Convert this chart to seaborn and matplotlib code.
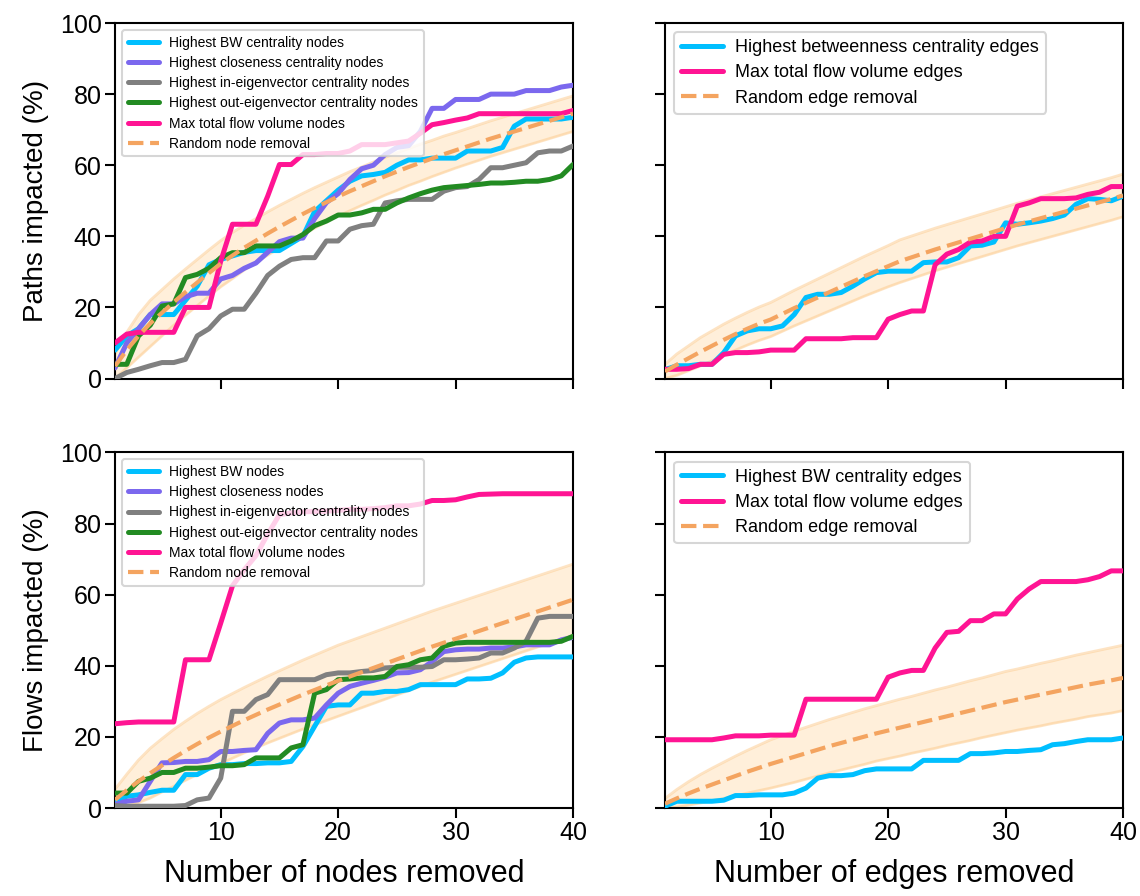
import numpy as np
import pandas as pd
import matplotlib
matplotlib.use("Agg")
import matplotlib.pyplot as plt
import seaborn as sns

# ---------------- data ----------------
x_removed = list(range(1, 41))

# Paths impacted (%) - node removal
paths_node_bw = [8, 12, 14, 18, 18, 18, 22, 26, 32, 33.5, 34.5, 35.5, 36, 36, 36, 38, 40, 47, 50, 53,
                 55.5, 57, 57.4, 58, 60, 61.5, 61.5, 62, 62, 62, 64, 64, 64, 65, 71, 73, 73, 73, 73, 73.5]
paths_node_closeness = [3, 10, 14, 18, 21, 21, 23, 24, 24, 28, 29, 31, 32.5, 35.5, 38.5, 39.5, 39.5, 45, 49.5, 52,
                        56, 59, 60, 63, 65, 65.5, 69.5, 76, 76, 78.5, 78.5, 78.5, 80, 80, 80, 81, 81, 81, 82, 82.5]
paths_node_in_eig = [0, 1.7, 2.6, 3.6, 4.5, 4.5, 5.4, 12, 14, 17.6, 19.5, 19.5, 24, 29, 31.6, 33.5, 34, 34, 38.7, 38.7,
                     42, 43, 43.4, 49.4, 50, 50.4, 50.4, 50.4, 52.7, 53.7, 54, 56, 59.3, 59.3, 60, 60.7, 63.5, 64, 64, 65.4]
paths_node_out_eig = [4, 4, 12, 15, 20.4, 21, 28.4, 29.3, 31, 34, 35.4, 35.4, 37.3, 37.3, 37.3, 38.7, 40.5, 43, 44.3, 46,
                      46, 46.6, 47.6, 47.6, 49.4, 50.8, 52, 53, 53.7, 54, 54.3, 54.6, 55, 55, 55.2, 55.5, 55.5, 56, 57, 60.2]
paths_node_flow = [10, 12.5, 13, 13, 13, 13, 20, 20, 20, 33, 43.4, 43.4, 43.4, 51.3, 60.2, 60.2, 63, 63, 63.3, 63.3,
                   64, 65.8, 65.8, 65.8, 66.3, 66.8, 69, 71.4, 72, 72.7, 73.3, 74.5, 74.5, 74.5, 74.5, 74.5, 74.5, 74.5, 74.5, 75.4]
paths_node_rand = [3.5, 8, 12, 15.5, 18.5, 21.5, 24.3, 27, 29.7, 32.3, 34.6, 36.8, 38.8, 40.8, 42.7, 44.5, 46.3, 48, 49.6, 51.2,
                   52.7, 54.1, 55.5, 56.9, 58.2, 59.5, 60.7, 61.9, 63.1, 64.2, 65.3, 66.4, 67.5, 68.5, 69.5, 70.5, 71.5, 72.5, 73.5, 74.5]
paths_node_rand_lo = [0, 3, 6, 9, 12, 15, 17.8, 20.5, 23.2, 25.8, 28.1, 30.5, 32.6, 34.7, 36.7, 38.6, 40.5, 42.3, 44, 45.7,
                      47.2, 48.7, 50.1, 51.6, 52.9, 54.3, 55.5, 56.8, 58, 59.2, 60.3, 61.4, 62.5, 63.5, 64.5, 65.5, 66.5, 67.5, 68.5, 69.5]
paths_node_rand_hi = [7, 13, 18, 22, 25, 28, 30.8, 33.5, 36.2, 38.8, 41.1, 43.1, 45, 46.9, 48.7, 50.4, 52.1, 53.7, 55.2, 56.7,
                      58.2, 59.5, 60.9, 62.2, 63.5, 64.7, 65.9, 67, 68.2, 69.2, 70.3, 71.4, 72.5, 73.5, 74.5, 75.5, 76.5, 77.5, 78.5, 79.5]

# Paths impacted (%) - edge removal
paths_edge_bw = [2.5, 3.6, 3.6, 4, 4, 7.3, 12, 13.4, 14, 14, 14.8, 18, 22.8, 23.7, 23.7, 24.2, 26, 28, 29.8, 30.2,
                 30.2, 30.2, 32.6, 32.8, 32.8, 34, 37.3, 37.5, 38.4, 43.8, 43.4, 43.8, 44.3, 45, 46, 49, 50.6, 50.4, 50, 51.3]
paths_edge_flow = [2.6, 2.6, 2.8, 4, 4, 6.8, 7.3, 7.3, 7.5, 8, 8, 8, 11.2, 11.2, 11.2, 11.2, 11.5, 11.5, 11.5, 16.7,
                   18, 19, 19, 32, 35, 36.3, 38.4, 38.7, 40, 40, 48.5, 49.4, 50.6, 50.6, 50.6, 50.8, 51.8, 52.4, 54, 54]
paths_edge_rand = [2, 3.9, 5.7, 7.5, 9.2, 10.9, 12.5, 14, 15.4, 16.6, 18.2, 19.8, 21.3, 22.8, 24.3, 25.8, 27.3, 28.8, 30.2, 31.6,
                   33, 34.1, 35.2, 36.3, 37.3, 38.3, 39.3, 40.3, 41.3, 42.3, 43.3, 44.2, 45.1, 46, 46.9, 47.8, 48.7, 49.6, 50.5, 51.5]
paths_edge_rand_lo = [0, 0.9, 2.2, 3.5, 5, 6.5, 8, 9.4, 10.7, 11.8, 13.3, 14.8, 16.2, 17.6, 19, 20.4, 21.8, 23.2, 24.5, 25.8,
                      27, 28.1, 29.2, 30.3, 31.3, 32.3, 33.3, 34.3, 35.3, 36.3, 37.3, 38.2, 39.1, 40, 40.9, 41.8, 42.7, 43.6, 44.5, 45.5]
paths_edge_rand_hi = [4, 6.9, 9.2, 11.5, 13.4, 15.3, 17, 18.6, 20.1, 21.4, 23.1, 24.8, 26.4, 28, 29.6, 31.2, 32.8, 34.4, 35.9, 37.4,
                      39, 40.1, 41.2, 42.3, 43.3, 44.3, 45.3, 46.3, 47.3, 48.3, 49.3, 50.2, 51.1, 52, 52.9, 53.8, 54.7, 55.6, 56.5, 57.5]

# Flows impacted (%) - node removal
flows_node_bw = [1.4, 3.3, 3.7, 4.4, 5, 5, 9.4, 9.4, 11.2, 12.2, 12.2, 12.5, 12.5, 12.7, 12.7, 13.1, 17.3, 23, 28.6, 29,
                 29, 32.3, 32.3, 32.8, 32.8, 33.3, 34.7, 34.7, 34.7, 34.7, 36.3, 36.3, 36.5, 38, 41, 42.2, 42.5, 42.5, 42.5, 42.5]
flows_node_closeness = [1, 1.9, 2.3, 7.5, 12.7, 12.8, 13.1, 13.1, 13.6, 15.9, 15.9, 16.2, 16.4, 21, 23.9, 24.8, 24.8, 25.3, 29, 32.3,
                        34.2, 35.1, 35.9, 36.8, 38, 38.1, 38.9, 41.2, 44, 44.5, 44.7, 44.7, 45, 45, 45.3, 45.9, 45.9, 45.9, 47.3, 48]
flows_node_in_eig = [0.7, 0.5, 0.5, 0.5, 0.5, 0.5, 0.7, 2.3, 2.8, 8.4, 27.2, 27.2, 30.5, 31.9, 36.1, 36.1, 36.1, 36.1, 37.5, 38,
                     38, 38.4, 38.7, 39.4, 39.6, 39.6, 39.6, 39.8, 41.7, 41.7, 41.9, 42.2, 43.6, 43.6, 45, 46.9, 53.4, 53.9, 53.9, 53.9]
flows_node_out_eig = [4.2, 4.2, 7.5, 8.4, 10, 10, 11.2, 11.2, 11.5, 11.9, 11.9, 12.2, 14.1, 14.1, 14.1, 16.9, 17.8, 32.3, 33.3, 36.1,
                      36.3, 36.6, 36.6, 37, 39.8, 40.3, 41.7, 42.2, 45.5, 46.4, 46.6, 46.6, 46.6, 46.6, 46.6, 46.6, 46.6, 46.6, 46.9, 48.3]
flows_node_flow = [23.7, 24, 24.2, 24.2, 24.2, 24.2, 41.7, 41.7, 41.7, 52, 62.5, 67, 71, 77, 82.5, 83, 83.3, 83.4, 83.5, 83.7,
                   84, 84, 84.2, 84.5, 85, 85, 85.5, 86.5, 86.5, 86.7, 87.5, 88.2, 88.3, 88.4, 88.4, 88.4, 88.4, 88.4, 88.4, 88.4]
flows_node_rand = [2.3, 5, 7.5, 9.8, 12, 14.1, 16.1, 18, 19.8, 21.5, 23.1, 24.7, 26.2, 27.7, 29.1, 30.5, 31.9, 33.2, 34.5, 35.8,
                   37, 38.2, 39.4, 40.6, 41.8, 43, 44.2, 45.4, 46.5, 47.6, 48.7, 49.8, 50.9, 52, 53.1, 54.2, 55.3, 56.4, 57.5, 58.6]
flows_node_rand_lo = [0, 0.5, 1.5, 2.8, 4.5, 6.1, 7.8, 9.4, 11, 12.5, 14, 15.5, 16.9, 18.3, 19.6, 20.9, 22.2, 23.4, 24.6, 25.8,
                      27, 28.2, 29.4, 30.6, 31.8, 33, 34.2, 35.4, 36.5, 37.6, 38.7, 39.8, 40.9, 42, 43.1, 44.2, 45.3, 46.4, 47.5, 48.6]
flows_node_rand_hi = [5.3, 9.5, 13.5, 16.8, 19.5, 22.1, 24.4, 26.6, 28.6, 30.5, 32.2, 33.9, 35.5, 37.1, 38.6, 40.1, 41.6, 43, 44.4, 45.8,
                      47, 48.2, 49.4, 50.6, 51.8, 53, 54.2, 55.4, 56.5, 57.6, 58.7, 59.8, 60.9, 62, 63.1, 64.2, 65.3, 66.4, 67.5, 68.6]

# Flows impacted (%) - edge removal
flows_edge_bw = [0.5, 1.9, 1.9, 1.9, 1.9, 2.2, 3.5, 3.5, 3.7, 3.7, 3.7, 4.2, 5.6, 8.4, 9.1, 9.1, 9.4, 10.5, 11, 11,
                 11, 11, 13.4, 13.4, 13.4, 13.4, 15.3, 15.3, 15.5, 15.9, 15.9, 16.2, 16.4, 17.8, 18.1, 18.7, 19.2, 19.2, 19.2, 19.7]
flows_edge_flow = [19.2, 19.2, 19.2, 19.2, 19.2, 19.7, 20.3, 20.3, 20.3, 20.5, 20.5, 20.5, 30.6, 30.6, 30.6, 30.6, 30.6, 30.6, 30.6, 36.8,
                   38, 38.7, 38.7, 45, 49.4, 49.7, 52.7, 52.7, 54.6, 54.6, 58.8, 61.6, 63.7, 63.7, 63.7, 63.7, 64.2, 65.1, 66.7, 66.7]
flows_edge_rand = [1.2, 2.7, 4.1, 5.4, 6.6, 7.8, 9, 10.2, 11.3, 12.4, 13.4, 14.4, 15.4, 16.4, 17.4, 18.3, 19.2, 20.1, 21, 21.8,
                   22.6, 23.4, 24.2, 25, 25.8, 26.6, 27.4, 28.2, 29, 29.8, 30.5, 31.2, 31.9, 32.6, 33.3, 34, 34.7, 35.3, 35.9, 36.6]
flows_edge_rand_lo = [0, 0.2, 0.8, 1.4, 2, 2.7, 3.4, 4.2, 4.9, 5.6, 6.4, 7.2, 8.1, 9, 9.9, 10.7, 11.5, 12.3, 13.2, 13.9,
                      14.6, 15.4, 16.1, 16.8, 17.6, 18.3, 19, 19.8, 20.5, 21.2, 21.9, 22.5, 23.1, 23.8, 24.4, 25, 25.7, 26.2, 26.7, 27.4]
flows_edge_rand_hi = [2.7, 5.2, 7.4, 9.4, 11.2, 12.9, 14.6, 16.2, 17.7, 19.2, 20.4, 21.6, 22.7, 23.8, 24.9, 25.9, 26.9, 27.9, 28.8, 29.7,
                      30.6, 31.4, 32.3, 33.2, 34, 34.9, 35.8, 36.6, 37.5, 38.4, 39.1, 39.9, 40.7, 41.4, 42.2, 43, 43.7, 44.4, 45.1, 45.8]

# labels
y_ticks = [0, 20, 40, 60, 80, 100]
x_ticks = [10, 20, 30, 40]

# ---------------- style ----------------
sns.set_style("ticks")
plt.rcParams["font.family"] = ["Liberation Sans", "DejaVu Sans"]
plt.rcParams["text.color"] = "black"
plt.rcParams["axes.labelcolor"] = "black"
plt.rcParams["xtick.color"] = "black"
plt.rcParams["ytick.color"] = "black"

C_BW = "#00bfff"
C_CL = "#7b68ee"
C_IN = "#808080"
C_OUT = "#228b22"
C_FLOW = "#ff1493"
C_RAND = "#f4a460"
C_BAND = "#ffb347"
C_BAND_EDGE = "#fcc98a"

LW = 3.6

fig, axes = plt.subplots(2, 2, figsize=(11.4, 8.96), dpi=100, sharex=True, sharey=True)
fig.subplots_adjust(left=0.1009, right=0.9851, top=0.9743, bottom=0.0982, wspace=0.2009, hspace=0.208)


def draw(ax, series, mean, lo, hi, rand_label, leg_fs):
    ax.fill_between(x_removed, lo, hi, color=C_BAND, alpha=0.2, lw=0, zorder=1)
    ax.plot(x_removed, lo, color=C_BAND_EDGE, alpha=0.5, lw=2, zorder=1)
    ax.plot(x_removed, hi, color=C_BAND_EDGE, alpha=0.5, lw=2, zorder=1)
    for label, vals, color in series:
        sns.lineplot(x=x_removed, y=vals, ax=ax, color=color, lw=LW, label=label, zorder=3)
    sns.lineplot(x=x_removed, y=mean, ax=ax, color=C_RAND, lw=3, linestyle="--", label=rand_label, zorder=4)
    handles, labels = ax.get_legend_handles_labels()
    leg = ax.legend(handles, labels, loc="upper left", fontsize=leg_fs, handlelength=2.3,
                    handletextpad=0.7, labelspacing=0.45, framealpha=0.8, edgecolor="0.8",
                    fancybox=True, borderaxespad=0.5)
    leg.get_frame().set_linewidth(1.5)
    ax.set_xlim(1, 40)
    ax.set_ylim(0, 100)
    ax.set_xticks(x_ticks)
    ax.set_yticks(y_ticks)
    ax.tick_params(axis="both", which="major", labelsize=18, length=7, width=1.5,
                   direction="out", pad=2.5, colors="black")
    for sp in ax.spines.values():
        sp.set_linewidth(1.5)
        sp.set_color("black")
        sp.set_visible(True)
    ax.set_xlabel("")
    ax.set_ylabel("")


draw(axes[0, 0],
     [("Highest BW centrality nodes", paths_node_bw, C_BW),
      ("Highest closeness centrality nodes", paths_node_closeness, C_CL),
      ("Highest in-eigenvector centrality nodes", paths_node_in_eig, C_IN),
      ("Highest out-eigenvector centrality nodes", paths_node_out_eig, C_OUT),
      ("Max total flow volume nodes", paths_node_flow, C_FLOW)],
     paths_node_rand, paths_node_rand_lo, paths_node_rand_hi, "Random node removal", 10)

draw(axes[0, 1],
     [("Highest betweenness centrality edges", paths_edge_bw, C_BW),
      ("Max total flow volume edges", paths_edge_flow, C_FLOW)],
     paths_edge_rand, paths_edge_rand_lo, paths_edge_rand_hi, "Random edge removal", 13)

draw(axes[1, 0],
     [("Highest BW nodes", flows_node_bw, C_BW),
      ("Highest closeness nodes", flows_node_closeness, C_CL),
      ("Highest in-eigenvector centrality nodes", flows_node_in_eig, C_IN),
      ("Highest out-eigenvector centrality nodes", flows_node_out_eig, C_OUT),
      ("Max total flow volume nodes", flows_node_flow, C_FLOW)],
     flows_node_rand, flows_node_rand_lo, flows_node_rand_hi, "Random node removal", 10)

draw(axes[1, 1],
     [("Highest BW centrality edges", flows_edge_bw, C_BW),
      ("Max total flow volume edges", flows_edge_flow, C_FLOW)],
     flows_edge_rand, flows_edge_rand_lo, flows_edge_rand_hi, "Random edge removal", 13)

axes[0, 0].set_ylabel("Paths impacted (%)", fontsize=20, labelpad=8)
axes[1, 0].set_ylabel("Flows impacted (%)", fontsize=20, labelpad=8)
axes[1, 0].set_xlabel("Number of nodes removed", fontsize=22, labelpad=10)
axes[1, 1].set_xlabel("Number of edges removed", fontsize=22, labelpad=10)

fig.savefig("out.png", dpi=100)
